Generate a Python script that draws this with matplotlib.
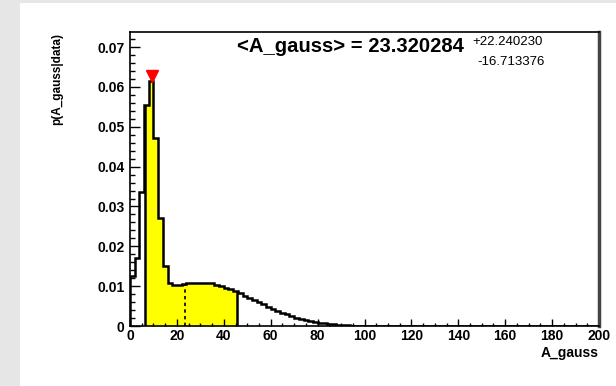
#!/usr/bin/env python3
"""Posterior of A_gauss: binned density with the central interval shaded."""
import numpy as np
import matplotlib
matplotlib.use("Agg")
import matplotlib.pyplot as plt
from matplotlib.patches import Rectangle
from matplotlib.ticker import MultipleLocator, FuncFormatter
from matplotlib.transforms import offset_copy

plt.rcParams["font.family"] = ["Liberation Sans", "DejaVu Sans"]
plt.rcParams["font.weight"] = "bold"

BIN_WIDTH = 2.0
# p(A_gauss|data) per 2-unit bin, starting at 0
DENSITY = [
    0.0125, 0.0170, 0.0337, 0.0554, 0.0615, 0.0471, 0.0270, 0.0150, 0.0109, 0.0103,
    0.0103, 0.0105, 0.0108, 0.0109, 0.0109, 0.0109, 0.0108, 0.0107, 0.0104, 0.0100,
    0.0096, 0.0092, 0.0087, 0.0082, 0.0076, 0.0070, 0.0065, 0.0059, 0.0054, 0.0048,
    0.0043, 0.0038, 0.0033, 0.0029, 0.0025, 0.0021, 0.0018, 0.0015, 0.0012, 0.0010,
    0.0008, 0.0007, 0.0005, 0.0004, 0.0003, 0.0002, 0.00015, 0.0001, 0.00007, 0.00005,
    0.00003, 0.00002, 0.00001, 0.0, 0.0, 0.0, 0.0, 0.0, 0.0, 0.0,
    0.0, 0.0, 0.0, 0.0, 0.0, 0.0, 0.0, 0.0, 0.0, 0.0,
    0.0, 0.0, 0.0, 0.0, 0.0, 0.0, 0.0, 0.0, 0.0, 0.0,
    0.0, 0.0, 0.0, 0.0, 0.0, 0.0, 0.0, 0.0, 0.0, 0.0,
    0.0, 0.0, 0.0, 0.0, 0.0, 0.0, 0.0, 0.0, 0.0, 0.0,
]
MEAN = 23.320284
ERR_HI = 22.240230
ERR_LO = 16.713376
MODE = 9.4

values = np.array(DENSITY)
edges = np.arange(len(values) + 1) * BIN_WIDTH


def density_at(x):
    i = np.clip(np.searchsorted(edges, x, side="right") - 1, 0, len(values) - 1)
    return values[i]


W, H = 616, 386
fig = plt.figure(figsize=(W / 100, H / 100), dpi=100)
fig.patch.set_facecolor("#e6e6e6")
fig.add_artist(Rectangle((20 / W, 0), 1 - 20 / W, 1 - 3 / H, transform=fig.transFigure,
                         facecolor="white", edgecolor="none", zorder=-10))

ax = fig.add_axes([130 / W, 1 - 326 / H, (599 - 130) / W, (326 - 32) / H])
ax.set_xlim(0, 200)
ax.set_ylim(0, 0.0738)

# shaded interval
lo, hi = MEAN - ERR_LO, MEAN + ERR_HI
xs = np.concatenate([[lo], edges[(edges > lo) & (edges < hi)], [hi]])
ax.fill_between(xs, density_at(xs), step="post", color="#ffff00", lw=0, zorder=1)
ax.vlines([lo, hi], 0, [density_at(lo), density_at(hi)], color="black", lw=1.8, zorder=3)
ax.vlines(MEAN, 0, density_at(MEAN), color="black", lw=1.2, linestyles=(0, (2, 2)), zorder=3)

ax.stairs(values, edges, color="black", lw=1.8, zorder=2)

# mode marker sitting on top of the peak bin
mark_tr = offset_copy(ax.transData, fig=fig, x=0, y=5, units="dots")
ax.plot(MODE, density_at(MODE), marker="v", color="red", ms=8, mec="red",
        transform=mark_tr, zorder=4, clip_on=False)

# frame
for side in ("left", "bottom", "top"):
    ax.spines[side].set_linewidth(1.2)
    ax.spines[side].set_color("black")
ax.spines["right"].set_linewidth(2.5)
ax.spines["right"].set_color("#444444")

ax.xaxis.set_major_locator(MultipleLocator(20))
ax.xaxis.set_minor_locator(MultipleLocator(5))
ax.yaxis.set_major_locator(MultipleLocator(0.01))
ax.yaxis.set_minor_locator(MultipleLocator(0.002))
ax.yaxis.set_major_formatter(FuncFormatter(lambda v, p: "0" if abs(v) < 1e-9 else f"{v:.2f}"))
ax.xaxis.set_major_formatter(FuncFormatter(lambda v, p: f"{v:.0f}"))
ax.tick_params(axis="x", which="major", direction="in", length=5, width=1, pad=2, labelsize=10)
ax.tick_params(axis="x", which="minor", direction="in", length=2.5, width=1)
ax.tick_params(axis="y", which="major", direction="in", length=7, width=1, pad=4, labelsize=10)
ax.tick_params(axis="y", which="minor", direction="in", length=3.5, width=1)
for lab in ax.get_xticklabels() + ax.get_yticklabels():
    lab.set_fontweight("bold")

fig.text(57 / W, 1 - 33 / H, "p(A_gauss|data)", rotation=90, ha="center", va="top",
         fontsize=8.5, fontweight="bold")
fig.text(599 / W, 1 - 353 / H, "A_gauss", ha="right", va="center", fontsize=10,
         fontweight="bold")

fig.text(237 / W, 1 - 47 / H, f"<A_gauss> = {MEAN:.6f}", ha="left", va="center",
         fontsize=14.6, fontweight="bold")
fig.text(472 / W, 1 - 42 / H, f"+{ERR_HI:.6f}", ha="left", va="center", fontsize=9.5,
         fontweight="normal")
fig.text(477 / W, 1 - 62 / H, f"-{ERR_LO:.6f}", ha="left", va="center", fontsize=9.5,
         fontweight="normal")

fig.savefig("out.png", dpi=100)
